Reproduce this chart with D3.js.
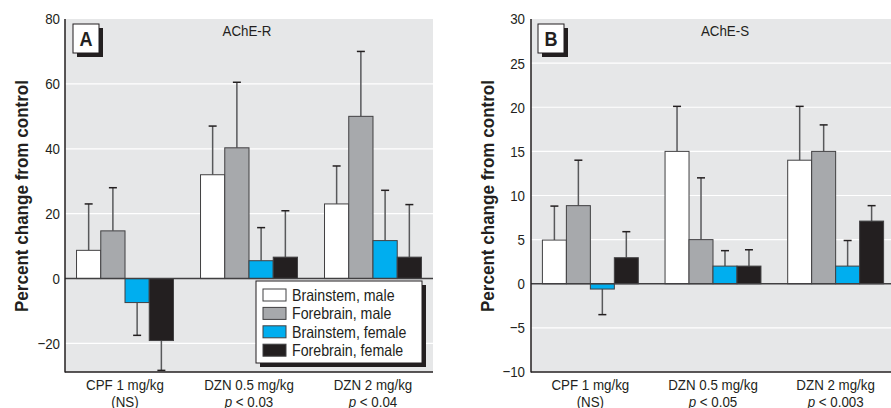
<!DOCTYPE html>
<html>
<head>
<meta charset="utf-8">
<title>AChE</title>
<script src="https://cdn.jsdelivr.net/npm/d3@7"></script>
<style>
  body { margin: 0; background: #fff; }
  text { font-family: "Liberation Sans", Arial, sans-serif; fill: #231f20; }
</style>
</head>
<body>
<div id="chart"></div>
<script>
// categories along x
var groups = ["CPF 1 mg/kg", "DZN 0.5 mg/kg", "DZN 2 mg/kg"];
var pLabelsR = ["(NS)", "p < 0.03", "p < 0.04"];
var pLabelsS = ["(NS)", "p < 0.05", "p < 0.003"];

var seriesNames = ["Brainstem, male", "Forebrain, male", "Brainstem, female", "Forebrain, female"];
var seriesColors = ["#ffffff", "#a7a9ac", "#00aeef", "#231f20"];

// AChE-R: bar value and error bar tip, one row per series
var rMeans = [[8.7, 32, 23], [14.7, 40.3, 50], [-7.4, 5.5, 11.7], [-19.1, 6.6, 6.6]];
var rTips  = [[23, 47, 34.7], [28, 60.5, 70], [-17.5, 15.7, 27.2], [-28.3, 20.9, 22.8]];
var rTicks = [-20, 0, 20, 40, 60, 80];

// AChE-S
var sMeans = [[4.95, 15, 14], [8.85, 5, 15], [-0.6, 2, 2], [2.95, 2, 7.1]];
var sTips  = [[8.8, 20.1, 20.1], [14, 12, 18], [-3.5, 3.75, 4.9], [5.9, 3.85, 8.85]];
var sTicks = [-10, -5, 0, 5, 10, 15, 20, 25, 30];

var W = 891, H = 408;
var svg = d3.select("#chart").append("svg").attr("width", W).attr("height", H);

var plotTop = 19, plotBottom = 372;
var narrow = 0.86; // squeeze text to look like a condensed face

function drawPanel(p) {
  var g = svg.append("g");

  var y = d3.scaleLinear().domain(p.domain).range([plotBottom, plotTop]);
  var x0 = d3.scaleBand().domain(groups).range([p.left, p.right])
              .paddingInner(0.218).paddingOuter(0.093);
  var x1 = d3.scaleBand().domain(d3.range(seriesNames.length)).range([0, x0.bandwidth()]);

  // plot background
  g.append("rect")
    .attr("x", p.left).attr("y", plotTop)
    .attr("width", p.right - p.left).attr("height", plotBottom - plotTop)
    .attr("fill", "#e6e7e8");

  // white grid lines
  g.selectAll("line.grid")
    .data(p.ticks.filter(function(t) { return t !== 0 && t !== p.domain[1]; }))
    .enter().append("line")
    .attr("class", "grid")
    .attr("x1", p.left).attr("x2", p.right)
    .attr("y1", function(d) { return y(d); }).attr("y2", function(d) { return y(d); })
    .attr("stroke", "#fff").attr("stroke-width", 1.2);

  // error bars (behind bars)
  seriesNames.forEach(function(name, si) {
    groups.forEach(function(grp, gi) {
      var cx = x0(grp) + x1(si) + x1.bandwidth() / 2;
      g.append("line")
        .attr("x1", cx).attr("x2", cx)
        .attr("y1", y(p.means[si][gi])).attr("y2", y(p.tips[si][gi]))
        .attr("stroke", "#58595b").attr("stroke-width", 1.5);
      g.append("line")
        .attr("x1", cx - 4).attr("x2", cx + 4)
        .attr("y1", y(p.tips[si][gi])).attr("y2", y(p.tips[si][gi]))
        .attr("stroke", "#231f20").attr("stroke-width", 1.5);
    });
  });

  // bars
  seriesNames.forEach(function(name, si) {
    g.selectAll("rect.s" + si)
      .data(p.means[si])
      .enter().append("rect")
      .attr("class", "s" + si)
      .attr("x", function(d, gi) { return x0(groups[gi]) + x1(si); })
      .attr("y", function(d) { return y(Math.max(0, d)); })
      .attr("width", x1.bandwidth())
      .attr("height", function(d) { return Math.abs(y(d) - y(0)); })
      .attr("fill", seriesColors[si])
      .attr("stroke", "#414042").attr("stroke-width", 1);
  });

  // zero line
  g.append("line")
    .attr("x1", p.left).attr("x2", p.right)
    .attr("y1", y(0)).attr("y2", y(0))
    .attr("stroke", "#414042").attr("stroke-width", 1.5);

  // axis lines
  g.append("line")
    .attr("x1", p.left).attr("x2", p.left)
    .attr("y1", plotTop).attr("y2", plotBottom + 0.5)
    .attr("stroke", "#231f20").attr("stroke-width", 1.5);
  g.append("line")
    .attr("x1", p.left).attr("x2", p.right)
    .attr("y1", plotBottom).attr("y2", plotBottom)
    .attr("stroke", "#231f20").attr("stroke-width", 1.5);

  // y tick labels
  var yAxis = g.append("g")
    .attr("transform", "translate(" + p.left + ",0)")
    .call(d3.axisLeft(y).tickValues(p.ticks).tickSize(0).tickPadding(p.tickPad));
  yAxis.select(".domain").remove();
  yAxis.selectAll("text")
    .attr("font-family", "Liberation Sans, Arial, sans-serif")
    .attr("font-size", 15.5).attr("fill", "#231f20");

  // y title
  g.append("text")
    .attr("class", "fixed")
    .attr("transform", "translate(" + p.yTitleX + "," + 196 + ") rotate(-90)")
    .attr("text-anchor", "middle")
    .attr("dy", "0.35em")
    .attr("font-size", 19).attr("font-weight", "bold")
    .attr("textLength", 232).attr("lengthAdjust", "spacingAndGlyphs")
    .text("Percent change from control");

  // x labels, two lines each
  groups.forEach(function(grp, gi) {
    var cx = x0(grp) + x0.bandwidth() / 2;
    g.append("text").attr("class", "xl").attr("x", cx).attr("y", 390)
      .attr("text-anchor", "middle").attr("font-size", 14.5).text(grp);
    var t = g.append("text").attr("class", "xl").attr("x", cx).attr("y", 406.5)
      .attr("text-anchor", "middle").attr("font-size", 14.5);
    var lab = p.pLabels[gi];
    if (lab.charAt(0) === "p") {
      t.append("tspan").attr("font-style", "italic").text("p");
      t.append("tspan").text(lab.slice(1));
    } else {
      t.text(lab);
    }
  });

  // panel title
  g.append("text")
    .attr("x", p.titleX).attr("y", 36)
    .attr("text-anchor", "middle").attr("font-size", 15.5)
    .text(p.title);

  // panel letter box with shadow
  var bx = p.left + p.boxOff, by = 24, bw = 26, bh = 29;
  g.append("rect").attr("x", bx + 4).attr("y", by + 4).attr("width", bw).attr("height", bh)
    .attr("fill", "#231f20");
  g.append("rect").attr("x", bx).attr("y", by).attr("width", bw).attr("height", bh)
    .attr("fill", "#fff").attr("stroke", "#231f20").attr("stroke-width", 1);
  g.append("text").attr("x", bx + bw / 2).attr("y", by + 22)
    .attr("text-anchor", "middle").attr("font-size", 21).attr("font-weight", "bold")
    .text(p.letter);

  return g;
}

drawPanel({
  left: 65, right: 433, domain: [-28.8, 80], ticks: rTicks, tickPad: 5,
  means: rMeans, tips: rTips, pLabels: pLabelsR,
  title: "AChE-R", titleX: 247, letter: "A", boxOff: 8, yTitleX: 21
});

drawPanel({
  left: 531, right: 895, domain: [-10, 30], ticks: sTicks, tickPad: 6,
  means: sMeans, tips: sTips, pLabels: pLabelsS,
  title: "AChE-S", titleX: 725, letter: "B", boxOff: 7, yTitleX: 487
});

// legend (panel A)
var lg = svg.append("g");
var lx = 256, ly = 281, lw = 166, lh = 82;
lg.append("rect").attr("x", lx + 4).attr("y", ly + 4).attr("width", lw).attr("height", lh)
  .attr("fill", "#231f20");
lg.append("rect").attr("x", lx).attr("y", ly).attr("width", lw).attr("height", lh)
  .attr("fill", "#fff").attr("stroke", "#231f20").attr("stroke-width", 1);
seriesNames.forEach(function(name, i) {
  var cy = 295 + i * 18.4;
  lg.append("rect").attr("x", 263).attr("y", cy - 6).attr("width", 23).attr("height", 12)
    .attr("fill", seriesColors[i]).attr("stroke", "#414042").attr("stroke-width", 1);
  lg.append("text").attr("x", 292).attr("y", cy).attr("dy", "0.36em")
    .attr("font-size", 16.5).text(name);
});

// condense every text that has no fixed length
svg.selectAll("text").each(function() {
  var el = d3.select(this);
  if (el.classed("fixed")) return;
  var f = el.classed("xl") ? 0.92 : narrow;
  var len = this.getComputedTextLength();
  el.attr("textLength", len * f).attr("lengthAdjust", "spacingAndGlyphs");
});
</script>
</body>
</html>
